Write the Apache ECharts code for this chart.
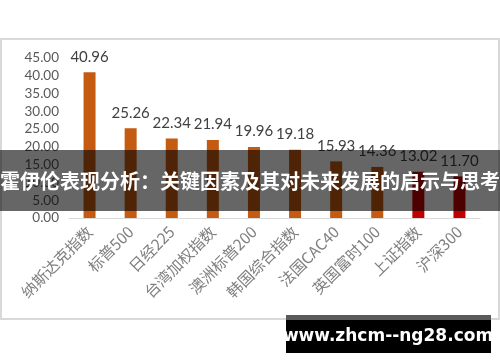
<!DOCTYPE html>
<html><head><meta charset="utf-8">
<script src="https://cdn.jsdelivr.net/npm/echarts@6/dist/echarts.min.js"></script>
<style>html,body{margin:0;padding:0;background:#fff}#c{width:500px;height:362px}</style>
</head><body><div id="c"></div>
<script>
const categories = ['纳斯达克指数','标普500','日经225','台湾加权指数','澳洲标普200','韩国综合指数','法国CAC40','英国富时100','上证指数','沪深300'];
const values = [40.96, 25.26, 22.34, 21.94, 19.96, 19.18, 15.93, 14.36, 13.02, 11.70];
const barColors = ['#C55A11','#C55A11','#C55A11','#C55A11','#C55A11','#C55A11','#C55A11','#C55A11','#C00000','#C00000'];
const titleText = '霍伊伦表现分析：关键因素及其对未来发展的启示与思考';
const watermark = 'www.zhcm--ng28.com';

const chart = echarts.init(document.getElementById('c'));
chart.setOption({
  animation: false,
  grid: {left: 69, right: 20, top: 58, bottom: 144},
  xAxis: {
    type: 'category', data: categories,
    axisLine: {lineStyle: {color: '#d9d9d9', width: 1}},
    axisTick: {show: false},
    axisLabel: {rotate: 45, interval: 0, color: '#7f7f7f', fontSize: 15.5, fontFamily: 'Noto Sans CJK SC', margin: 11}
  },
  yAxis: {
    type: 'value', min: 0, max: 45, interval: 5,
    splitLine: {show: false}, axisLine: {show: false}, axisTick: {show: false},
    axisLabel: {formatter: v => v.toFixed(2), color: '#595959', fontSize: 13.5, fontFamily: 'Lato', margin: 10}
  },
  series: [{
    type: 'bar', barWidth: 12,
    data: values.map((v, i) => ({value: v, itemStyle: {color: barColors[i]}})),
    label: {show: true, position: 'top', distance: 8, formatter: p => p.value.toFixed(2), color: '#404040', fontSize: 15, fontFamily: 'Lato'}
  }],
  graphic: [
    {type: 'rect', z: 1, shape: {x: 1, y: 39, width: 498, height: 280}, style: {fill: 'none', stroke: '#d9d9d9', lineWidth: 2}},
    {type: 'rect', z: 100, shape: {x: 0, y: 150, width: 500, height: 61}, style: {fill: 'rgba(0,0,0,0.6)'}},
    {type: 'text', z: 101, x: 250, y: 181, style: {text: titleText, fill: '#fff', font: 'bold 20px "Noto Sans CJK SC"', textAlign: 'center', textVerticalAlign: 'middle'}},
    {type: 'rect', z: 100, shape: {x: 286, y: 315, width: 205, height: 38}, style: {fill: '#000'}},
    {type: 'rect', z: 100, shape: {x: 286, y: 315, width: 205, height: 5}, style: {fill: '#5a5a5a'}},
    {type: 'text', z: 101, x: 388, y: 337, style: {text: watermark, fill: '#fff', font: 'bold 17px "DejaVu Sans"', textAlign: 'center', textVerticalAlign: 'middle'}}
  ]
});
</script></body></html>
